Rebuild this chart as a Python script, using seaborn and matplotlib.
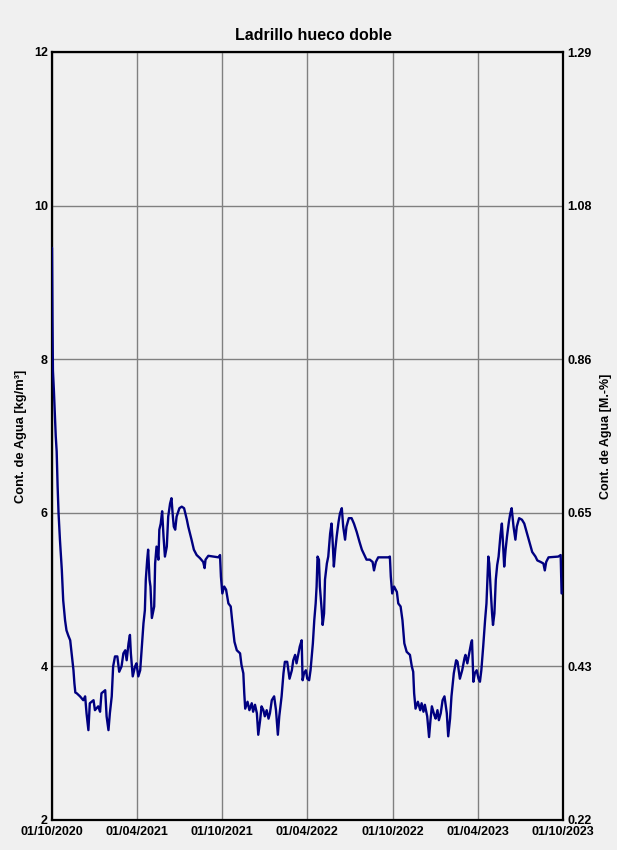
import numpy as np
import pandas as pd
import matplotlib
matplotlib.use("Agg")
import matplotlib.pyplot as plt
import seaborn as sns

# ---------------- data ----------------
start_date = "2020-10-01"
end_date = "2023-10-01"

days_y1 = [0, 1, 2, 4, 6, 8, 10, 12, 14, 17,
           21, 24, 28, 31, 35, 39, 42, 46, 48, 50,
           53, 60, 67, 71, 74, 78, 81, 89, 92, 99,
           103, 106, 114, 117, 121, 124, 128, 131, 135, 140,
           144, 149, 153, 157, 160, 164, 167, 169, 173, 178,
           181, 185, 189, 192, 196, 199, 201, 204, 206, 209,
           211, 214, 219, 221, 224, 228, 230, 233, 236, 239,
           242, 246, 249, 253, 256, 259, 261, 264, 267, 273,
           278, 283, 289, 292, 299, 304, 310, 317, 324, 327,
           329, 335, 346, 357, 360]
water_y1 = [9.45, 8.50, 7.85, 7.60, 7.30, 7.00, 6.80, 6.35, 6.00, 5.65,
            5.26, 4.86, 4.60, 4.47, 4.40, 4.34, 4.17, 3.95, 3.78, 3.66,
            3.65, 3.61, 3.56, 3.61, 3.39, 3.17, 3.52, 3.56, 3.43, 3.48,
            3.41, 3.65, 3.69, 3.35, 3.17, 3.39, 3.61, 4.00, 4.13, 4.13,
            3.93, 4.00, 4.17, 4.21, 4.08, 4.30, 4.41, 4.17, 3.87, 4.00,
            4.04, 3.87, 3.95, 4.21, 4.56, 4.73, 5.13, 5.39, 5.52, 5.13,
            5.04, 4.63, 4.78, 5.34, 5.56, 5.39, 5.78, 5.86, 6.02, 5.69,
            5.43, 5.56, 5.95, 6.12, 6.19, 5.95, 5.82, 5.78, 5.95, 6.06,
            6.08, 6.06, 5.91, 5.82, 5.65, 5.52, 5.45, 5.41, 5.36, 5.28,
            5.39, 5.44, 5.43, 5.42, 5.45]

days_y2 = [362, 365, 369, 373, 378, 383, 386, 391, 396, 403,
           406, 410, 412, 414, 419, 423, 428, 431, 435, 439,
           442, 446, 449, 453, 456, 460, 464, 467, 471, 476,
           480, 484, 487, 492, 496, 499, 504, 509, 514, 517,
           521, 524, 528, 531, 535, 537, 540, 544, 547, 551,
           554, 559, 562, 565, 567, 569, 572, 574, 578, 580,
           583, 585, 589, 592, 596, 599, 601, 604, 607, 610,
           614, 617, 621, 624, 628, 631, 636, 642, 647, 653,
           659, 664, 671, 674, 681, 687, 690, 694, 699, 721,
           724]
water_y2 = [5.17, 4.95, 5.04, 5.00, 4.82, 4.78, 4.60, 4.32, 4.21, 4.17,
            4.02, 3.91, 3.65, 3.45, 3.54, 3.43, 3.52, 3.41, 3.50, 3.39,
            3.11, 3.30, 3.48, 3.43, 3.35, 3.43, 3.32, 3.39, 3.56, 3.61,
            3.43, 3.11, 3.35, 3.61, 3.91, 4.06, 4.06, 3.84, 3.95, 4.08,
            4.15, 4.04, 4.17, 4.26, 4.34, 3.82, 3.91, 3.95, 3.84, 3.82,
            3.95, 4.30, 4.60, 4.82, 5.04, 5.43, 5.39, 5.04, 4.73, 4.54,
            4.69, 5.13, 5.34, 5.43, 5.73, 5.86, 5.67, 5.30, 5.52, 5.69,
            5.88, 5.99, 6.06, 5.82, 5.65, 5.82, 5.93, 5.93, 5.86, 5.75,
            5.62, 5.52, 5.43, 5.39, 5.39, 5.36, 5.25, 5.36, 5.42, 5.42,
            5.43]

days_y3 = [726, 729, 733, 739, 742, 747, 751, 755, 760, 767,
           771, 774, 776, 779, 784, 789, 792, 796, 799, 804,
           808, 811, 814, 819, 822, 826, 829, 833, 837, 841,
           846, 849, 853, 856, 861, 866, 869, 874, 879, 884,
           886, 890, 894, 898, 900, 903, 906, 910, 914, 917,
           920, 924, 928, 931, 933, 935, 937, 940, 943, 945,
           948, 951, 954, 957, 961, 964, 966, 969, 972, 975,
           979, 982, 985, 989, 993, 996, 1001, 1007, 1012, 1017,
           1023, 1029, 1036, 1040, 1047, 1053, 1056, 1059, 1064, 1085,
           1090, 1092]
water_y3 = [5.17, 4.95, 5.04, 4.97, 4.82, 4.78, 4.60, 4.30, 4.19, 4.15,
            4.00, 3.93, 3.65, 3.45, 3.54, 3.43, 3.52, 3.41, 3.50, 3.35,
            3.08, 3.30, 3.48, 3.37, 3.32, 3.43, 3.30, 3.39, 3.56, 3.61,
            3.39, 3.09, 3.32, 3.61, 3.91, 4.08, 4.06, 3.84, 3.95, 4.11,
            4.15, 4.04, 4.17, 4.30, 4.34, 3.80, 3.91, 3.95, 3.84, 3.80,
            3.95, 4.26, 4.60, 4.82, 5.13, 5.43, 5.34, 5.00, 4.69, 4.54,
            4.69, 5.13, 5.32, 5.43, 5.71, 5.86, 5.65, 5.30, 5.52, 5.69,
            5.88, 5.99, 6.06, 5.82, 5.65, 5.82, 5.93, 5.91, 5.86, 5.75,
            5.62, 5.49, 5.43, 5.38, 5.36, 5.34, 5.25, 5.36, 5.42, 5.43,
            5.45, 4.95]

x_tick_dates = ["2020-10-01", "2021-04-01", "2021-10-01", "2022-04-01",
                "2022-10-01", "2023-04-01", "2023-10-01"]
y_ticks = [2, 4, 6, 8, 10, 12]
y_right_labels = ["0.22", "0.43", "0.65", "0.86", "1.08", "1.29"]

title = "Ladrillo hueco doble"
ylabel_left = "Cont. de Agua [kg/m³]"
ylabel_right = "Cont. de Agua [M.-%]"

# ---------------- build table ----------------
days = days_y1 + days_y2 + days_y3
water = water_y1 + water_y2 + water_y3
assert len(days) == len(water)
t0 = pd.Timestamp(start_date)
df = pd.DataFrame({"date": t0 + pd.to_timedelta(days, unit="D"), "water": water})

# ---------------- style ----------------
bg = "#f0f0f0"
sns.set_style("white", {"axes.facecolor": bg, "figure.facecolor": bg,
                        "text.color": "black", "axes.labelcolor": "black",
                        "xtick.color": "black", "ytick.color": "black"})
plt.rcParams["font.family"] = ["Liberation Sans", "DejaVu Sans"]

fig = plt.figure(figsize=(6.17, 8.5), dpi=100, facecolor=bg)
ax = fig.add_axes([52 / 617, 30 / 850, 511 / 617, 768 / 850])
ax.set_facecolor(bg)

sns.lineplot(data=df, x="date", y="water", ax=ax, color="#000080",
             linewidth=1.7, zorder=3)

ax.set_xlim(t0, pd.Timestamp(end_date))
ax.set_ylim(y_ticks[0], y_ticks[-1])

xt = pd.to_datetime(x_tick_dates)
ax.set_xticks(xt)
ax.set_xticklabels([d.strftime("%d/%m/%Y") for d in xt],
                   fontsize=9, fontweight="bold", color="black")
ax.set_yticks(y_ticks)
ax.set_yticklabels([str(v) for v in y_ticks], fontsize=9, fontweight="bold",
                   color="black")
ax.tick_params(axis="both", length=0, pad=3)
ax.tick_params(axis="x", pad=4.5)
ax.grid(True, color="#808080", linewidth=1.0)
ax.set_axisbelow(True)
for s in ax.spines.values():
    s.set_visible(True)
    s.set_color("black")
    s.set_linewidth(1.6)

ax.set_xlabel("")
ax.set_ylabel(ylabel_left, fontsize=9.3, fontweight="bold", labelpad=5,
              color="black")
ax.set_title(title, fontsize=11.5, fontweight="bold", pad=9, x=0.512,
             color="black")

ax2 = ax.twinx()
ax2.set_ylim(y_ticks[0], y_ticks[-1])
ax2.set_yticks(y_ticks)
ax2.set_yticklabels(y_right_labels, fontsize=9, fontweight="bold",
                    color="black")
ax2.tick_params(axis="y", length=0, pad=3)
ax2.grid(False)
for s in ax2.spines.values():
    s.set_visible(False)
ax2.set_ylabel(ylabel_right, fontsize=9, fontweight="bold", labelpad=6,
               rotation=90, color="black")

fig.savefig("out.png", dpi=100, facecolor=bg)
